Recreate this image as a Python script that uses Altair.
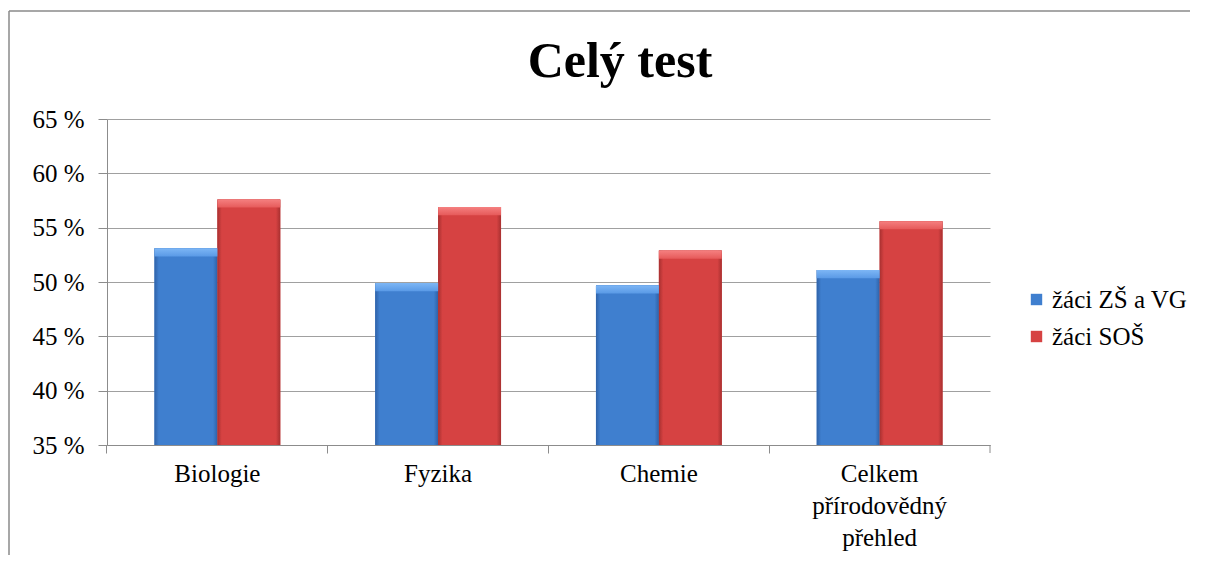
import altair as alt
import pandas as pd

title_text = "Celý test"
categories = ["Biologie", "Fyzika", "Chemie", "Celkem přírodovědný přehled"]
series = ["žáci ZŠ a VG", "žáci SOŠ"]
zs_vg = [53.1, 49.9, 49.7, 51.1]
sos = [57.6, 56.9, 52.9, 55.6]
y_ticks = [35, 40, 45, 50, 55, 60, 65]

rows = []
for c, a, b in zip(categories, zs_vg, sos):
    rows.append({"kategorie": c, "skupina": series[0], "hodnota": a})
    rows.append({"kategorie": c, "skupina": series[1], "hodnota": b})
df = pd.DataFrame(rows)

FONT = "Liberation Serif"
FS = 25
BLUE = "#3F7FCF"
RED = "#D64242"

x_enc = alt.X(
    "kategorie:N", sort=categories, title=None,
    scale=alt.Scale(paddingInner=0.43, paddingOuter=0.215),
    axis=alt.Axis(
        labelAngle=0, tickSize=8, labelPadding=8, grid=False,
        bandPosition=-0.3775, labelLineHeight=32, labelFont=FONT, labelFontSize=FS,
        labelExpr="datum.label == 'Celkem přírodovědný přehled' ? ['Celkem', 'přírodovědný', 'přehled'] : datum.label",
    ),
)
xo_enc = alt.XOffset("skupina:N", sort=series, scale=alt.Scale(paddingInner=0, paddingOuter=0))
y_enc = alt.Y(
    "hodnota:Q", title=None,
    scale=alt.Scale(domain=[35, 65], zero=False, nice=False),
    axis=alt.Axis(values=y_ticks, labelExpr="datum.value + ' %'", tickSize=9,
                  labelPadding=14, grid=True, labelFont=FONT, labelFontSize=FS),
)

base = alt.Chart(df).encode(x=x_enc, xOffset=xo_enc)

bars = base.mark_bar().encode(
    y=y_enc, y2=alt.datum(35),
    color=alt.Color("skupina:N", sort=series,
                    scale=alt.Scale(domain=series, range=[BLUE, RED]),
                    legend=alt.Legend(title=None, labelFont=FONT, labelFontSize=FS)),
)


def hgrad(dark, main):
    return alt.Gradient(
        gradient="linear", x1=0, x2=1, y1=0, y2=0,
        stops=[alt.GradientStop(offset=0, color=dark),
               alt.GradientStop(offset=0.07, color=main),
               alt.GradientStop(offset=0.93, color=main),
               alt.GradientStop(offset=1, color=dark)],
    )


def vgrad(light, main):
    return alt.Gradient(
        gradient="linear", x1=0, x2=0, y1=0, y2=1,
        stops=[alt.GradientStop(offset=0, color=light),
               alt.GradientStop(offset=1, color=main)],
    )


blue_body = base.transform_filter(alt.datum.skupina == series[0]).mark_bar(
    fill=hgrad("#2F62A8", BLUE)).encode(y="hodnota:Q", y2=alt.datum(35))
red_body = base.transform_filter(alt.datum.skupina == series[1]).mark_bar(
    fill=hgrad("#A83030", RED)).encode(y="hodnota:Q", y2=alt.datum(35))

blue_top = base.transform_filter(alt.datum.skupina == series[0]).transform_calculate(
    bev="datum.hodnota - 0.75").mark_bar(fill=vgrad("#7DB6F5", "#5A9AE6")).encode(
    y="hodnota:Q", y2="bev:Q")
red_top = base.transform_filter(alt.datum.skupina == series[1]).transform_calculate(
    bev="datum.hodnota - 0.75").mark_bar(fill=vgrad("#F58080", "#E65A5A")).encode(
    y="hodnota:Q", y2="bev:Q")

frame_data = alt.Data(values=[{}])
frame_top = alt.Chart(frame_data).mark_rule(color="#8A8A8A", strokeWidth=1.5).encode(
    x=alt.value(-98), x2=alt.value(1100), y=alt.value(-108))
frame_left = alt.Chart(frame_data).mark_rule(color="#8A8A8A", strokeWidth=1.5).encode(
    x=alt.value(-98), y=alt.value(-108), y2=alt.value(460))
end_tick = alt.Chart(frame_data).mark_rule(color="#8C8C8C").encode(
    x=alt.value(883), y=alt.value(326), y2=alt.value(334))

title_mark = alt.Chart(alt.Data(values=[{"t": title_text}])).mark_text(
    font=FONT, fontSize=50, fontWeight="bold", color="black",
    align="center", baseline="alphabetic",
).encode(x=alt.value(513), y=alt.value(-42), text="t:N")

chart = alt.layer(
    bars, blue_body, red_body, blue_top, red_top, frame_top, frame_left, end_tick,
    title_mark,
).properties(
    width=883, height=326,
    padding={"left": 99, "top": 111, "right": 200, "bottom": 110},
    autosize=alt.AutoSizeParams(type="none"),
).configure(font=FONT).configure_view(stroke=None).configure_axis(
    labelFont=FONT, labelFontSize=FS, labelColor="black",
    domainColor="#8C8C8C", tickColor="#8C8C8C", gridColor="#A0A0A0",
).configure_legend(
    orient="none", legendX=917, legendY=168, labelFont=FONT, labelFontSize=FS,
    labelColor="black", symbolType="square", symbolSize=130, symbolStrokeWidth=0,
    rowPadding=11, labelOffset=3,
)

chart.save("out.html", embed_options={"renderer": "svg", "actions": False})
